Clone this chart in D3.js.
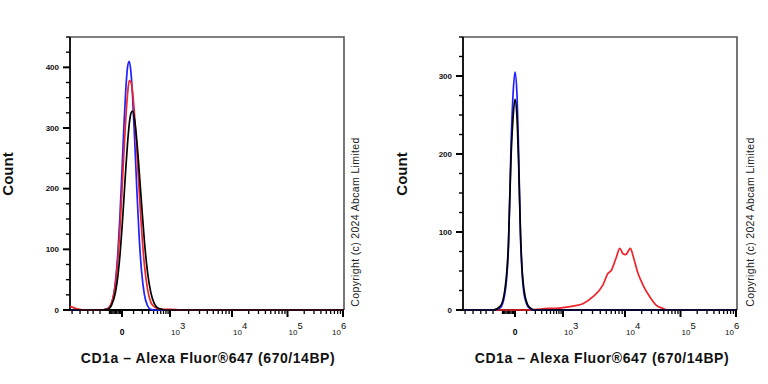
<!DOCTYPE html>
<html><head><meta charset="utf-8">
<script src="https://cdn.jsdelivr.net/npm/d3@7"></script>
<style>
body{margin:0;background:#fff}
svg{display:block}
text{font-family:"Liberation Sans",Arial,Helvetica,sans-serif}
</style>
</head><body>
<svg id="chart" width="768" height="384"></svg>
<script>
// ---------- DATA ----------
// Shared fluorescence-intensity grid (bins) used by most histograms
const gridX = [-1000,-700,-400,-200,-120,-80,-50,-30,-15,0,15,30,45,60,75,90,110,135,160,190,230,280,340,420,520,650,800,1000,1500,2500,4000,7000,10000,20000,50000,100000,1000000];

// Left panel histograms (counts per bin of gridX)
const leftBlue  = [0,0,0,0,2,12,47,98,157,230,300,360,399,410,393,354,284,194,121,64,25,7,1,0,0,0,0,0,0,0,0,0,0,0,0,0,0];
const leftRed   = [6,2,0,0,2,13,43,87,136,197,257,312,354,378,376,360,321,259,197,133,74,34,13,5,2,1,1,1,0,0,0,0,0,0,0,0,0];
const leftBlack = [0,0,0,0,1,9,29,58,91,135,182,230,273,306,324,328,314,277,230,175,113,62,29,10,3,1,0,0,0,0,0,0,0,0,0,0,0];

// Right panel histograms
const rightBlue  = [0,0,0,0,3,20,80,210,275,305,280,200,95,45,22,12,5,2,0,0,0,0,0,0,0,0,0,0,0,0,0,0,0,0,0,0,0];
const rightBlack = [0,0,0,0,5,25,85,195,245,270,250,185,100,50,27,15,7,3,1,0,0,0,0,0,0,0,0,0,0,0,0,0,0,0,0,0,0];
const rightRedX  = [-1000,-200,0,100,266,435,700,1000,1450,2100,3050,4400,5330,6050,7280,8220,9290,10300,12500,13900,17150,21100,27900,36800,48400,59500,100000,1000000];
const rightRed   = [0,0,0,0,1,2,2,3,5,8,17,32,47,51,68,79,72,71,79,70,47,32,17,6,2,0,0,0];

// Axis ticks
const xMajorTicks = [0, 1e3, 1e4, 1e5, 1e6];
const xMajorExps = ["", "3", "4", "5", "6"]; // exponents of 10 ("" = plain 0)
const xNegMinorTicks = [-900,-600,-400,-300,-200,-100,-90,-80,-70,-60,-50,-40,-30,-20,-10];
const leftYMax = 450, rightYMax = 350;
const yLabelTicks = [0,100,200,300,400];

const xTitle = "CD1a \u2013 Alexa Fluor\u00ae647 (670/14BP)";
const yTitle = "Count";
const copyright = "Copyright (c) 2024 Abcam Limited";

// ---------- DRAW ----------
const svg = d3.select("#chart");
const T = v => Math.asinh(v / 150) / Math.LN10;   // logicle-like transform

function minorTicks() {
  const out = xNegMinorTicks.slice();
  for (let k = 1; k <= 9; k++) for (let e = 2; e <= 5; e++) out.push(k*Math.pow(10,e));
  return out.filter(v => v >= -1000 && v <= 1e6 && !xMajorTicks.includes(v));
}

function panel(cfg) {
  const {x0, x1, yTop, yBot, yMax, series, titleX, countX, copyX} = cfg;
  const x = d3.scaleLinear()
    .domain([T(-1000), T(0), T(1e3), T(1e4), T(1e6)])
    .range([x0, x0 + 52, x0 + 100, x0 + 162, x0 + 273]);
  const y = d3.scaleLinear().domain([0, yMax]).range([yBot, yTop]);
  const g = svg.append("g");

  // frame (top/right)
  g.append("path")
    .attr("d", `M${x0},${yTop}H${x1}V${yBot}`)
    .attr("fill", "none").attr("stroke", "#555").attr("stroke-width", 1.6);

  // y axis ticks (drawn from the y scale)
  const yMinor = d3.range(0, yMax + 1, 25).filter(v => v % 100 !== 0);
  const yMajor = yLabelTicks.filter(v => v <= yMax);
  g.append("g").selectAll("line").data(yMinor).join("line")
    .attr("x1", x0).attr("x2", x0 - 4).attr("y1", d => y(d)).attr("y2", d => y(d))
    .attr("stroke", "#000").attr("stroke-width", 1.4);
  g.append("g").selectAll("line").data(yMajor).join("line")
    .attr("x1", x0).attr("x2", x0 - 7).attr("y1", d => y(d)).attr("y2", d => y(d))
    .attr("stroke", "#000").attr("stroke-width", 2);
  g.append("g").selectAll("text").data(yMajor).join("text")
    .attr("x", x0 - 11).attr("y", d => y(d)).attr("dy", "0.35em").attr("text-anchor", "end")
    .attr("font-size", 8).attr("font-weight", "bold").attr("fill", "#111").text(d => d);
  g.append("line").attr("x1", x0).attr("x2", x0).attr("y1", yTop).attr("y2", yBot + 1)
    .attr("stroke", "#000").attr("stroke-width", 1.8);

  // x axis ticks (drawn from the x scale)
  g.append("g").selectAll("line").data(minorTicks()).join("line")
    .attr("x1", d => x(T(d))).attr("x2", d => x(T(d))).attr("y1", yBot).attr("y2", yBot + 4)
    .attr("stroke", "#000").attr("stroke-width", 1.3);
  g.append("g").selectAll("line").data(xMajorTicks).join("line")
    .attr("x1", d => x(T(d))).attr("x2", d => x(T(d))).attr("y1", yBot).attr("y2", yBot + 7)
    .attr("stroke", "#000").attr("stroke-width", 2);
  g.append("line").attr("x1", x0).attr("x2", x1).attr("y1", yBot).attr("y2", yBot)
    .attr("stroke", "#000").attr("stroke-width", 1.8);

  xMajorTicks.forEach((v, i) => {
    const px = x(T(v));
    if (xMajorExps[i] === "") {
      g.append("text").attr("x", px).attr("y", yBot + 25).attr("text-anchor", "middle")
        .attr("font-size", 8.5).attr("font-weight", "bold").text("0");
    } else {
      const last = i === xMajorTicks.length - 1;
      const t = g.append("text").attr("x", last ? px - 11 : px + 1).attr("y", yBot + 25)
        .attr("font-size", 8).attr("fill", "#111");
      t.append("tspan").text("10");
      t.append("tspan").attr("dy", -6.5).attr("font-size", 9.5).text(xMajorExps[i]);
    }
  });

  // histograms
  const line = d3.line().x(d => x(T(d[0]))).y(d => y(d[1])).curve(d3.curveMonotoneX);
  series.forEach(s => {
    g.append("path").datum(d3.zip(s.xs, s.ys))
      .attr("d", line).attr("fill", "none").attr("stroke", s.color)
      .attr("stroke-width", 1.7).attr("stroke-linejoin", "round");
  });

  // titles
  g.append("text").attr("x", titleX).attr("y", 363).attr("text-anchor", "middle")
    .attr("font-size", 14).attr("font-weight", "bold").attr("letter-spacing", 0.55).attr("fill", "#111").text(xTitle);
  g.append("text").attr("transform", `translate(${countX},174) rotate(-90)`)
    .attr("text-anchor", "middle").attr("font-size", 15).attr("font-weight", "bold").attr("fill", "#111").text(yTitle);
  g.append("text").attr("transform", `translate(${copyX},222) rotate(-90)`)
    .attr("text-anchor", "middle").attr("font-size", 10.5).attr("letter-spacing", 0.35).attr("fill", "#222").text(copyright);
}

panel({x0: 70, x1: 344, yTop: 37, yBot: 310, yMax: leftYMax, titleX: 208, countX: 13, copyX: 359,
  series: [
    {xs: gridX, ys: leftBlue, color: "#1f1fff"},
    {xs: gridX, ys: leftRed, color: "#f0222a"},
    {xs: gridX, ys: leftBlack, color: "#000"}
  ]});
panel({x0: 463, x1: 737, yTop: 37, yBot: 310, yMax: rightYMax, titleX: 602, countX: 407, copyX: 754,
  series: [
    {xs: rightRedX, ys: rightRed, color: "#f0222a"},
    {xs: gridX, ys: rightBlue, color: "#1f1fff"},
    {xs: gridX, ys: rightBlack, color: "#000"}
  ]});
</script>
</body></html>
